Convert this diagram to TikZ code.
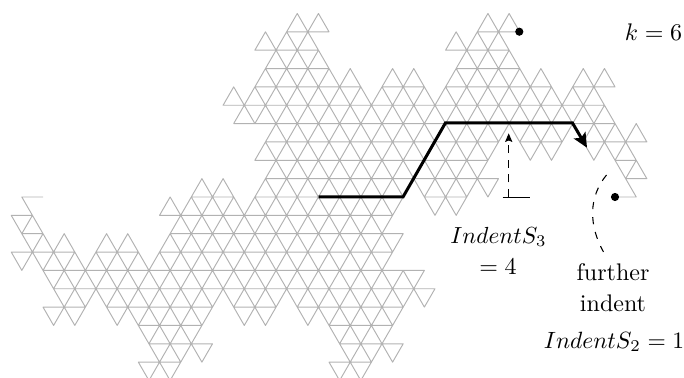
\documentclass[tikz,border=0pt]{standalone}
\usetikzlibrary{arrows.meta}
\newcount\tcx \newcount\tcy \newcount\thd
\newdimen\ths \newdimen\tvs
\ths=4.414pt \tvs=7.646pt
\def\terStep{%
  \ifcase\thd \advance\tcx 2
  \or \advance\tcx 1 \advance\tcy 1
  \or \advance\tcx -1 \advance\tcy 1
  \or \advance\tcx -2
  \or \advance\tcx -1 \advance\tcy -1
  \or \advance\tcx 1 \advance\tcy -1
  \fi
  \pgfpathlineto{\pgfqpoint{\dimexpr 17.92pt+\ths*\tcx\relax}{\dimexpr -82.08pt+\tvs*\tcy\relax}}%
}
\def\terLeft{\advance\thd 2 \ifnum\thd>5 \advance\thd -6 \fi}
\def\terRight{\advance\thd -2 \ifnum\thd<0 \advance\thd 6 \fi}
\def\terF#1{%
  \ifnum#1=0 \terStep
  \else
    \expandafter\terFrec\expandafter{\the\numexpr#1-1\relax}%
  \fi}
\def\terFrec#1{\terF{#1}\terLeft\terF{#1}\terRight\terF{#1}}
\tikzset{
  bold/.style={line width=1.25pt,line join=miter,-{Stealth[length=6pt,width=5.5pt,inset=1.2pt]}},
  vdash/.style={line width=0.45pt,dash pattern=on 3.4pt off 2.7pt},
  adash/.style={line width=0.45pt,dash pattern=on 3pt off 3.3pt},
  dot/.style={circle,fill=black,inner sep=0pt,minimum size=3.4pt},
  lab/.style={inner sep=0pt,align=center}
}
\begin{document}
\begin{tikzpicture}[x=0.41667pt,y=-0.41667pt]
\useasboundingbox (0,0) rectangle (684,378);
\begin{scope}
  \clip (0,0) rectangle (684,378);
  \pgfsetlinewidth{0.4pt}
  \pgfsetstrokecolor{black!30}
  \pgfsetroundjoin
  \tcx=0 \tcy=0 \thd=3
  \pgfpathmoveto{\pgfqpoint{17.92pt}{-82.08pt}}
  \terF{6}
  \pgfusepath{stroke}
\end{scope}
\coordinate (b0) at (318.5,197);
\coordinate (b1) at (403,197);
\coordinate (b2) at (445.4,123);
\coordinate (b3) at (572.5,123);
\coordinate (b4) at (587,147.7);
\draw[bold] (b0) -- (b1) -- (b2) -- (b3) -- (b4);
\coordinate (t0) at (502.5,197);
\coordinate (t1) at (530,197);
\coordinate (tm) at (508.7,197);
\coordinate (tt) at (508.7,133.3);
\draw[line width=0.4pt] (t0) -- (t1);
\draw[vdash,-{Stealth[length=3.6pt,width=3pt,inset=0.6pt]}] (tm) -- (tt);
\coordinate (a0) at (606.5,175);
\coordinate (a1) at (603.5,252);
\draw[adash] (a0) .. controls (588.5,197) and (588.5,225) .. (a1);
\node[dot] (d1) at (519.3,31.7) {};
\node[dot] (d2) at (615,197) {};
\node[lab] (nk) at (653.5,32) {$k=6$};
\node[lab] (n3) at (498.5,236.7) {\scalebox{0.97}{$Indent S_3$}};
\node[lab] (n4) at (498,266.5) {$=4$};
\node[lab] (nf) at (613,272) {further};
\node[lab] (ni) at (613,303) {indent};
\node[lab] (n2) at (614,341.7) {\scalebox{0.98}{$Indent S_2=1$}};
\end{tikzpicture}
\end{document}
